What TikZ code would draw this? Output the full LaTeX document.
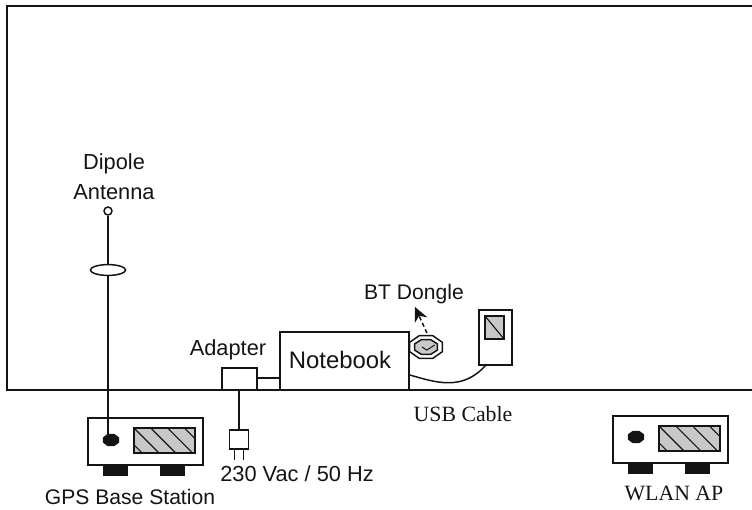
\documentclass[tikz,border=0pt]{standalone}
\usepackage{fontspec}
\setmainfont{Liberation Sans}
\newfontfamily\labelserif{Liberation Serif}
\usetikzlibrary{arrows.meta,shapes.geometric}
\definecolor{ink}{RGB}{20,20,20}
\definecolor{panel}{RGB}{200,200,200}
\tikzset{
  px/.style={x=0.025cm, y=-0.025cm},
  line/.style={draw=ink, line width=1.05pt},
  lbl/.style={font=\fontsize{15.5}{18}\selectfont, text=ink, inner sep=0pt},
  serif/.style={font=\labelserif\fontsize{15.5}{18}\selectfont, text=ink, inner sep=0pt},
  base/.style={line, fill=white, minimum width=2.875cm, minimum height=1.175cm, inner sep=0pt},
  foot/.style={draw=ink, fill=ink, minimum width=0.6cm, minimum height=0.25cm, inner sep=0pt},
  led/.style={draw=ink, fill=ink, regular polygon, regular polygon sides=8, minimum width=0.42cm, yscale=0.75, inner sep=0pt},
  hatch/.style={line, fill=panel, minimum width=#1, inner sep=0pt, path picture={
    \foreach \i in {-1,...,4}
      \draw[ink, line width=0.8pt] ([xshift=\i*0.42cm]path picture bounding box.north west) -- ++(0.7cm,-0.7cm);
  }},
  hatch/.default={1.525cm}
}
\begin{document}
\begin{tikzpicture}[px]
  \useasboundingbox (0,0) rectangle (752,509);
  % room
  \coordinate (roomtl) at (7,6);
  \coordinate (roomtr) at (752,6);
  \coordinate (roombl) at (7,390);
  \coordinate (roombr) at (752,390);
  \draw[line] (roomtr) -- (roomtl) -- (roombl) -- (roombr);

  % gps base station
  \node[base] (gps) at (145.5,441.5) {};
  \node[foot] (gpsfootl) at (115,470) {};
  \node[foot] (gpsfootr) at (172.5,470) {};
  \node[led] (gpsled) at (111,440) {};
  \node[hatch, minimum height=0.625cm] (gpspanel) at (164.5,440.5) {};
  \node[lbl, font=\fontsize{15}{18}\selectfont] (gpslbl) at (130,497) {GPS Base Station};

  % antenna
  \node[line, circle, fill=white, minimum size=0.2cm, inner sep=0pt] (ant) at (108,211) {};
  \node[line, ellipse, fill=white, minimum width=0.88cm, minimum height=0.27cm, inner sep=0pt] (choke) at (108,270) {};
  \draw[line] (ant.south) -- (choke.north);
  \draw[line] (choke.south) -- (gpsled.north -| choke.south);
  \node[lbl] (dipole) at (114,164) {Dipole};
  \node[lbl] (antenna) at (114,192) {Antenna};

  % notebook and adapter
  \node[line, fill=white, minimum width=3.225cm, minimum height=1.45cm, inner sep=0pt] (nb) at (344.5,361) {};
  \node[lbl, font=\fontsize{17}{20}\selectfont] at (340,360) (nblbl) {Notebook};
  \node[line, fill=white, minimum width=0.875cm, minimum height=0.55cm, inner sep=0pt] (adapter) at (239.5,379) {};
  \node[lbl] (adlbl) at (228,350) {Adapter};
  \draw[line] (adapter.east |- 0,378) -- (nb.west |- 0,378);

  % mains plug
  \node[line, fill=white, minimum width=0.475cm, minimum height=0.475cm, inner sep=0pt] (plug) at (239,439.5) {};
  \draw[line] (plug.north) -- (plug.north |- adapter.south);
  \draw[line] ([xshift=-0.11cm]plug.south) -- ++(0,10);
  \draw[line] ([xshift=0.11cm]plug.south) -- ++(0,10);
  \node[lbl] (mains) at (297,474) {230 Vac / 50 Hz};

  % dongle
  \node[line, fill=white, regular polygon, regular polygon sides=8, minimum width=0.88cm, yscale=0.7, inner sep=0pt] (dongle) at (426,347) {};
  \node[line, fill=panel, regular polygon, regular polygon sides=8, minimum width=0.62cm, yscale=0.64, inner sep=0pt, path picture={\draw[ink, line width=0.7pt] ([xshift=-0.1cm]path picture bounding box.center) -- ++(0.12cm,-0.12cm) -- ++(0.2cm,0.2cm);}] (donglein) at (426,347) {};
  \node[lbl, font=\fontsize{15}{18}\selectfont] (btlbl) at (414,294) {BT Dongle};
  \coordinate (tipend) at (415,307);
  \draw[ink, densely dashed, line width=1.05pt, -{Stealth[length=0.36cm,width=0.34cm]}] (dongle.north) ++(1,-2) -- (tipend);

  % handheld
  \node[line, fill=white, minimum width=0.825cm, minimum height=1.375cm, inner sep=0pt] (phone) at (495.5,337.5) {};
  \node[line, fill=panel, minimum width=0.475cm, minimum height=0.575cm, inner sep=0pt, path picture={\draw[ink, line width=0.8pt] (path picture bounding box.north west) -- (path picture bounding box.south east);}] (phonepanel) at (494.5,327.5) {};
  \coordinate (usbstart) at (nb.east |- 0,375);
  \coordinate (usbend) at (486,365);
  \draw[line] (usbstart) .. controls (435,382) and (462,392) .. (usbend);
  \node[serif] (usblbl) at (463,414) {USB Cable};

  % wlan ap
  \node[base] (wlan) at (670.5,439.5) {};
  \node[foot] (wlanfootl) at (640,468) {};
  \node[foot] (wlanfootr) at (697.5,468) {};
  \node[led] (wlanled) at (636,437) {};
  \node[hatch, minimum height=0.625cm] (wlanpanel) at (689.5,438.5) {};
  \node[serif] (wlanlbl) at (674,493) {WLAN AP};
\end{tikzpicture}
\end{document}
